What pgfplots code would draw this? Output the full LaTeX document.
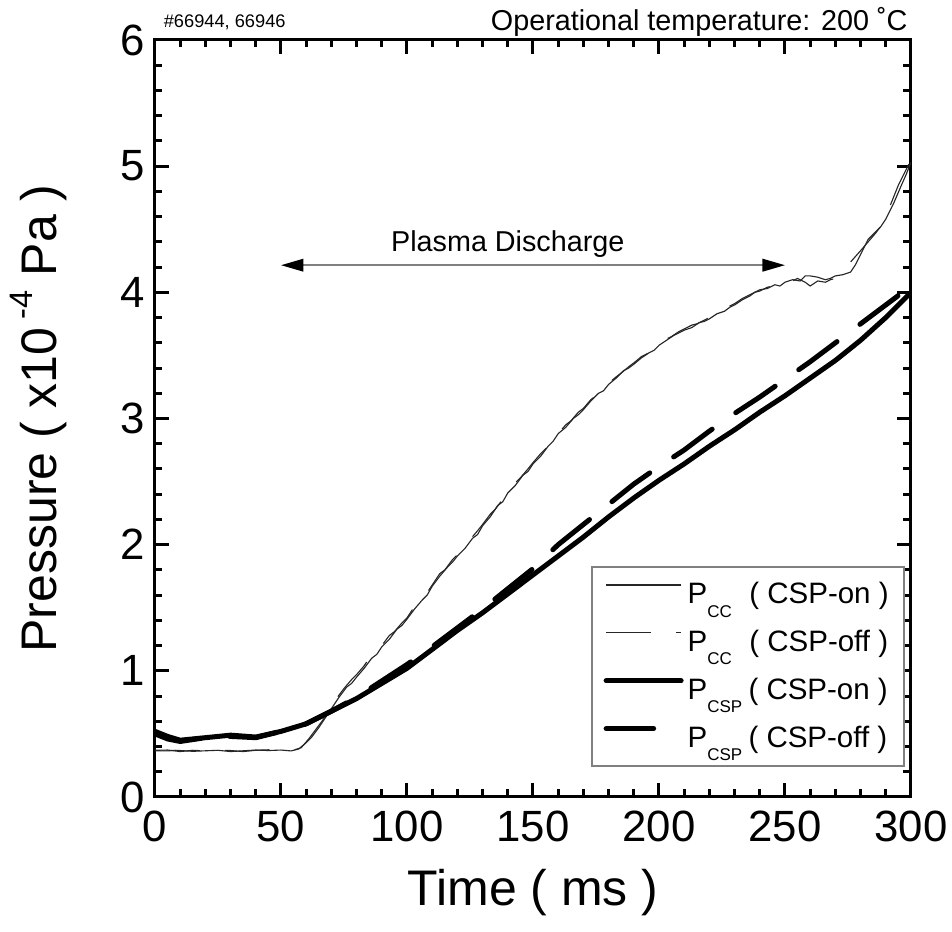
\documentclass[border=0pt]{standalone}
\usepackage{fontspec}
\setmainfont{Liberation Sans}
\usepackage{pgfplots}
\pgfplotsset{compat=1.18}
\usetikzlibrary{arrows.meta}
\newcommand{\sub}[1]{\raisebox{-5.4pt}{\fontsize{6.8}{7}\selectfont #1}}
\begin{document}
\begin{tikzpicture}
\begin{axis}[
  scale only axis, width=302.4pt, height=302.8pt,
  xmin=0, xmax=300, ymin=0, ymax=6,
  xtick={0,50,...,300}, ytick={0,1,...,6},
  minor x tick num=4, minor y tick num=4,
  tick align=inside,
  major tick length=5.5pt, minor tick length=3pt,
  every tick/.append style={black, line width=1.2pt},
  axis line style={line width=1.2pt},
  /pgf/number format/assume math mode=true,
  ticklabel style={font=\fontsize{17.5}{18}\selectfont, inner sep=0pt},
  xticklabel shift=5.5pt, yticklabel shift=4pt,
  xlabel={Time ( ms )}, ylabel={Pressure ( x10\,\raisebox{0.9ex}{\fontsize{13}{14}\selectfont -4} Pa )},
  label style={font=\fontsize{20}{22}\selectfont},
  x label style={at={(axis description cs:0.5,-0.143)}, anchor=base},
  y label style={at={(axis description cs:-0.13,0.5)}, anchor=base, rotate=0},
  clip mode=individual,
  legend cell align=left,
  legend image code/.code={\draw[#1] (0pt,3.9pt) -- (30pt,3.9pt);},
  legend style={at={(rel axis cs:0.992,0.04)}, anchor=south east, draw=gray, line width=0.6pt,
    fill=white, font=\fontsize{11.8}{13}\selectfont, inner xsep=4.6pt, inner ysep=6pt,
    row sep=9.1pt, column sep=0pt, nodes={inner sep=0pt, inner xsep=1.6pt}},
]
\addplot[black!85, line width=0.45pt] coordinates {
(0,0.365)(5,0.365)(8,0.37)(10,0.368)(15,0.362)(20,0.366)(25,0.37)(30,0.36)(35,0.366)(40,0.372)(45,0.368)
(50,0.372)(54,0.365)(57,0.38)(60,0.43)(62,0.47)(65,0.55)(68,0.64)(70,0.70)(73,0.79)(76,0.87)
(78,0.90)(80,0.95)(83,1.02)(86,1.10)(88,1.13)(90,1.19)(93,1.25)(96,1.33)(98,1.36)(100,1.41)
(103,1.49)(106,1.56)(108,1.60)(110,1.67)(113,1.75)(116,1.82)(118,1.86)(120,1.91)(123,1.97)
(126,2.05)(128,2.08)(130,2.15)(133,2.22)(136,2.31)(138,2.34)(140,2.41)(143,2.47)(146,2.55)
(148,2.58)(150,2.64)(153,2.70)(156,2.78)(158,2.82)(160,2.88)(163,2.93)(166,3.00)(168,3.03)
(170,3.07)(173,3.14)(176,3.20)(178,3.22)(180,3.27)(183,3.32)(186,3.38)(188,3.40)(190,3.43)
(193,3.48)(196,3.52)(198,3.54)(200,3.58)(203,3.62)(206,3.66)(208,3.68)(210,3.70)(213,3.72)
(216,3.76)(218,3.77)(220,3.79)(223,3.83)(226,3.85)(228,3.88)(230,3.90)(233,3.94)(236,3.97)
(238,4.00)(240,4.02)(243,4.03)(246,4.06)(248,4.05)(250,4.08)(253,4.10)(256,4.09)(258,4.13)
(260,4.13)(263,4.12)(266,4.10)(268,4.11)(270,4.13)(273,4.14)(276,4.16)(278,4.22)(280,4.30)
(283,4.42)(286,4.48)(288,4.52)(290,4.58)(293,4.70)(296,4.84)(298,4.93)(300,5.03)};
\addlegendentry{P\sub{CC}\hspace{7pt}( CSP-on )}
\addplot[black!85, line width=0.45pt, dash pattern=on 18pt off 10pt] coordinates {
(0,0.37)(5,0.372)(10,0.36)(15,0.37)(20,0.365)(25,0.372)(30,0.368)(35,0.36)(40,0.37)(45,0.374)
(50,0.366)(55,0.372)(58,0.39)(61,0.46)(64,0.54)(67,0.62)(70,0.72)(72,0.78)(75,0.86)(78,0.93)
(80,0.97)(83,1.04)(85,1.10)(88,1.16)(90,1.20)(93,1.28)(95,1.31)(98,1.38)(100,1.42)(103,1.51)
(105,1.55)(108,1.62)(110,1.68)(113,1.77)(115,1.80)(118,1.88)(120,1.92)(123,2.00)(125,2.04)
(128,2.11)(130,2.16)(133,2.24)(135,2.28)(138,2.36)(140,2.42)(143,2.49)(145,2.53)(148,2.60)
(150,2.65)(153,2.72)(155,2.76)(158,2.84)(160,2.88)(163,2.95)(165,2.98)(168,3.05)(170,3.08)
(173,3.15)(175,3.18)(178,3.24)(180,3.28)(183,3.33)(185,3.36)(188,3.41)(190,3.44)(193,3.49)
(195,3.51)(198,3.56)(200,3.59)(203,3.63)(205,3.65)(208,3.69)(210,3.71)(213,3.74)(215,3.75)
(218,3.78)(220,3.80)(223,3.84)(225,3.86)(228,3.89)(230,3.91)(233,3.95)(235,3.97)(238,4.00)
(240,4.01)(243,4.04)(245,4.05)(248,4.08)(250,4.07)(253,4.09)(255,4.11)(258,4.08)(260,4.05)
(263,4.09)(266,4.08)(268,4.10)(270,4.11)(273,4.18)(276,4.24)(280,4.33)(283,4.40)(286,4.47)
(289,4.55)(292,4.70)(295,4.85)(298,4.97)(300,5.05)};
\addlegendentry{P\sub{CC}\hspace{7pt}( CSP-off )}
\addplot[black, line width=2pt, line cap=round, line join=round] coordinates {
(0,0.52)(5,0.48)(10,0.45)(15,0.46)(20,0.47)(30,0.49)(40,0.475)(50,0.52)(60,0.58)(70,0.68)
(80,0.78)(90,0.90)(100,1.02)(110,1.17)(120,1.32)(130,1.46)(140,1.61)(150,1.76)(160,1.91)
(170,2.06)(180,2.22)(190,2.37)(200,2.51)(210,2.64)(220,2.78)(230,2.91)(240,3.05)(250,3.18)
(260,3.32)(270,3.46)(280,3.62)(290,3.80)(300,4.00)};
\addlegendentry{P\sub{CSP}\hspace{2.5pt}( CSP-on )}
\addplot[black, line width=2pt, line cap=round, line join=round, dash pattern=on 19pt off 11.5pt] coordinates {
(0,0.50)(5,0.46)(10,0.44)(20,0.47)(30,0.48)(40,0.47)(50,0.52)(60,0.58)(70,0.68)(80,0.79)
(90,0.92)(100,1.05)(110,1.19)(120,1.34)(130,1.49)(140,1.65)(150,1.81)(160,2.00)(170,2.16)
(180,2.32)(190,2.48)(200,2.62)(210,2.75)(220,2.90)(230,3.04)(240,3.17)(250,3.31)(260,3.45)
(270,3.60)(280,3.75)(290,3.90)(300,4.05)};
\addlegendentry{P\sub{CSP}\hspace{2.5pt}( CSP-off )}
\draw[gray, line width=0.8pt, {Triangle[black,length=9pt,width=5pt]}-{Triangle[black,length=9pt,width=5pt]}]
  (axis cs:50,4.215) -- (axis cs:250,4.215);
\node[anchor=base, font=\fontsize{11.5}{13}\selectfont] at (axis cs:140,4.32) {Plasma Discharge};
\node[anchor=base west, inner sep=0pt, font=\fontsize{7.3}{8}\selectfont] at (rel axis cs:0.011,1.017) {\#66944, 66946};
\node[anchor=base east, inner sep=0pt, font=\fontsize{11.5}{13}\selectfont] at (rel axis cs:0.996,1.012) {Operational temperature: 200 ˚C};
\end{axis}
\path ([xshift=-62pt,yshift=-54pt]current axis.south west) rectangle ([xshift=16.4pt,yshift=16pt]current axis.north east);
\end{tikzpicture}
\end{document}
